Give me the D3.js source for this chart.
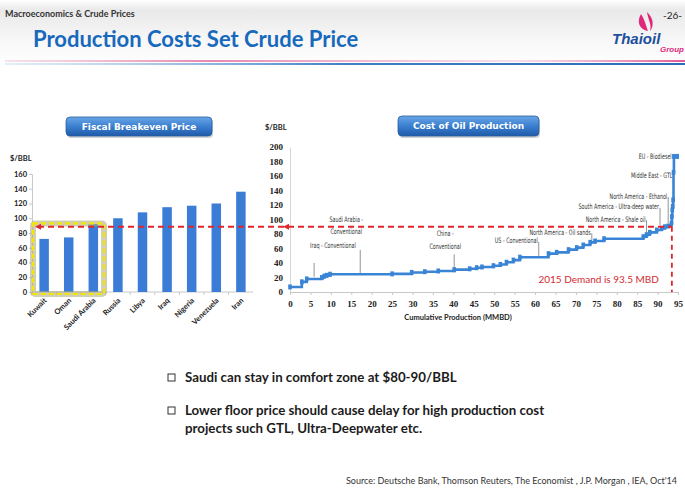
<!DOCTYPE html>
<html>
<head>
<meta charset="utf-8">
<script src="https://cdn.jsdelivr.net/npm/d3@7"></script>
<style>
  body { margin: 0; background: #fff; }
  svg { display: block; }
  .tick-l { font-family: Lato, sans-serif; font-weight: bold; font-size: 7.5px; fill: #222; }
  .tick-r { font-family: "Liberation Serif", serif; font-weight: bold; font-size: 9px; fill: #222; }
  .note { font-family: "DejaVu Sans", sans-serif; font-size: 7.5px; fill: #333; }
</style>
</head>
<body>
<svg id="slide" width="685" height="490"></svg>
<script>
// fiscal breakeven by country ($/bbl)
const countries = ["Kuwait", "Oman", "Saudi Arabia", "Russia", "Libya", "Iraq", "Nigeria", "Venezuela", "Iran"];
const breakeven = [72, 74, 92, 100, 108, 115, 117, 120, 136];
const leftTicks = [0, 20, 40, 60, 80, 100, 120, 140, 160];

// cost curve: cumulative production (mmbd) vs cost ($/bbl), step after
const cumProd = [0, 2.9, 4.1, 7.8, 8.4, 9.0, 9.8, 25, 29.8, 33, 36.3, 40.2, 44, 45.7, 47, 49.8, 51.5, 53, 54.7, 56.3,
    63.3, 65.3, 68.2, 70.2, 71.8, 73.5, 74.7, 76.9, 86.5, 87.3, 88.1, 89.8, 91.0, 91.8, 92.6, 93.4, 93.5, 93.6, 93.7,
    93.8, 93.9, 94.0, 94.8];
const prodCost = [7, 14, 18, 20, 22, 23, 24.5, 25, 27, 28, 29, 30.8, 32, 33.5, 34.5, 36.3, 38, 41, 44, 48,
    52.9, 54.7, 58.4, 61.2, 64.8, 68.5, 70.3, 73.5, 76.3, 79, 82.3, 85.5, 87.8, 90, 91, 95, 104, 113, 118,
    127, 165, 187, 187];
const rightYTicks = [0, 20, 40, 60, 80, 100, 120, 140, 160, 180, 200];
const rightXTicks = [0, 5, 10, 15, 20, 25, 30, 35, 40, 45, 50, 55, 60, 65, 70, 75, 80, 85, 90, 95];

const comfortPrice = 90;
const demand2015 = 93.5;

// producer labels on the curve
const noteText = [["Iraq - Conventional"], ["Saudi Arabia -", "Conventional"], ["China -", "Conventional"],
    ["US - Conventional"], ["North America - Oil sands"], ["North America - Shale oil"],
    ["South America - Ultra-deep water"], ["North America - Ethanol"], ["Middle East - GTL"], ["EU - Biodiesel"]];
const noteAt = [5.9, 17.2, 40.2, 60.9, 73.9, 87.3, 90.6, 92.6, 93.9, 93.7];
const noteTop = [40, 58, 52, 69, 81, 99, 116, 131, 159, 186];
const noteLow = [21, 25, 31, 49, 69, 76, 92, 95, 113, 186];

const svg = d3.select("#slide");
const defs = svg.append("defs");

// ---------- header ----------
const hg = defs.append("linearGradient").attr("id", "hdr").attr("x1", 0).attr("y1", 0).attr("x2", 0).attr("y2", 1);
hg.append("stop").attr("offset", "0").attr("stop-color", "#ffffff");
hg.append("stop").attr("offset", "0.15").attr("stop-color", "#e9e9e9");
hg.append("stop").attr("offset", "0.6").attr("stop-color", "#f7f7f7");
hg.append("stop").attr("offset", "1").attr("stop-color", "#ffffff");
svg.append("rect").attr("x", 0).attr("y", 0).attr("width", 685).attr("height", 66).attr("fill", "url(#hdr)");

const pk = defs.append("linearGradient").attr("id", "pink");
pk.append("stop").attr("offset", "0").attr("stop-color", "#e7a3c0").attr("stop-opacity", 0.3);
pk.append("stop").attr("offset", "0.3").attr("stop-color", "#e889b0");
pk.append("stop").attr("offset", "0.75").attr("stop-color", "#eec0d4").attr("stop-opacity", 0.5);
pk.append("stop").attr("offset", "1").attr("stop-color", "#e05a95");
const bl = defs.append("linearGradient").attr("id", "blue");
bl.append("stop").attr("offset", "0").attr("stop-color", "#7fb3e0").attr("stop-opacity", 0.2);
bl.append("stop").attr("offset", "0.5").attr("stop-color", "#3f7fc4");
bl.append("stop").attr("offset", "1").attr("stop-color", "#2b6cb5");
svg.append("rect").attr("x", 5).attr("y", 60).attr("width", 680).attr("height", 2).attr("fill", "url(#pink)");
svg.append("rect").attr("x", 5).attr("y", 63).attr("width", 680).attr("height", 2).attr("fill", "url(#blue)");

svg.append("text").attr("x", 5).attr("y", 17)
    .style("font-family", "Lato, sans-serif").style("font-weight", "bold").style("font-size", "9px")
    .attr("fill", "#333").text("Macroeconomics & Crude Prices");
svg.append("text").attr("x", 33).attr("y", 47)
    .style("font-family", "Lato, sans-serif").style("font-weight", "bold").style("font-size", "22px")
    .attr("fill", "#1769bd").text("Production Costs Set Crude Price");
svg.append("text").attr("x", 682).attr("y", 19).attr("text-anchor", "end")
    .style("font-family", "Lato, sans-serif").style("font-size", "10px").attr("fill", "#222").text("-26-");

// logo
svg.append("path").attr("d", "M641,14 C636,22 640,30 648,31 C646,26 645,20 641,14 Z M647,12 C648,20 652,24 650,31 C654,27 654,18 647,12 Z")
    .attr("fill", "#e0287a");
svg.append("text").attr("x", 612).attr("y", 44)
    .style("font-family", "Liberation Sans, sans-serif").style("font-weight", "bold").style("font-style", "italic")
    .style("font-size", "15px").attr("fill", "#1d4f9c").text("Thaioil");
svg.append("text").attr("x", 684).attr("y", 52).attr("text-anchor", "end")
    .style("font-family", "Liberation Sans, sans-serif").style("font-weight", "bold").style("font-style", "italic")
    .style("font-size", "8px").attr("fill", "#e0287a").text("Group");

// ---------- title buttons ----------
const bg = defs.append("linearGradient").attr("id", "btn").attr("x1", 0).attr("y1", 0).attr("x2", 0).attr("y2", 1);
bg.append("stop").attr("offset", "0").attr("stop-color", "#6aa6e6");
bg.append("stop").attr("offset", "0.5").attr("stop-color", "#3a7fd0");
bg.append("stop").attr("offset", "1").attr("stop-color", "#1f5aa8");

function button(x, y, w, h, label) {
    svg.append("rect").attr("x", x + 1).attr("y", y + 2).attr("width", w).attr("height", h).attr("rx", 4)
        .attr("fill", "#000").attr("opacity", 0.18);
    svg.append("rect").attr("x", x).attr("y", y).attr("width", w).attr("height", h).attr("rx", 4)
        .attr("fill", "url(#btn)").attr("stroke", "#2a5f9e").attr("stroke-width", 0.8);
    svg.append("text").attr("x", x + w / 2).attr("y", y + h / 2 + 3.3).attr("text-anchor", "middle")
        .style("font-family", "DejaVu Sans, sans-serif").style("font-weight", "bold").style("font-size", "9px")
        .attr("fill", "#fff").text(label);
}
button(66, 117, 146, 19, "Fiscal Breakeven Price");
button(398, 116, 141, 20, "Cost of Oil Production");

// ---------- left chart: fiscal breakeven ----------
const xL = d3.scaleBand().domain(countries).range([32, 253]).paddingInner(0.614).paddingOuter(0.3);
const yL = d3.scaleLinear().domain([0, 160]).range([292, 174]);

const gl = svg.append("g");
gl.append("g")
    .attr("transform", "translate(32,0)")
    .call(d3.axisLeft(yL).tickValues(leftTicks).tickSize(3).tickPadding(2))
    .call(g => g.selectAll("text").attr("class", "tick-l"))
    .call(g => g.selectAll("line,path").attr("stroke", "#c8c8c8"));

// x axis with ticks between bands
gl.append("line").attr("x1", 32).attr("x2", 253).attr("y1", yL(0)).attr("y2", yL(0)).attr("stroke", "#c8c8c8");
gl.selectAll(".sep").data(countries).enter().append("line")
    .attr("x1", d => xL(d) - xL.step() * xL.paddingInner() / 2)
    .attr("x2", d => xL(d) - xL.step() * xL.paddingInner() / 2)
    .attr("y1", yL(0)).attr("y2", yL(0) + 3).attr("stroke", "#c8c8c8");

gl.selectAll(".bar").data(countries).enter().append("rect")
    .attr("x", d => xL(d))
    .attr("y", (d, i) => yL(breakeven[i]))
    .attr("width", xL.bandwidth())
    .attr("height", (d, i) => yL(0) - yL(breakeven[i]))
    .attr("fill", "#3b7dd6");

gl.selectAll(".cat").data(countries).enter().append("text")
    .attr("class", "tick-l")
    .attr("text-anchor", "end")
    .attr("transform", d => "translate(" + (xL(d) + xL.bandwidth() / 2 + 3) + "," + (yL(0) + 9) + ") rotate(-45)")
    .text(d => d);

gl.append("text").attr("class", "tick-l").attr("x", 10).attr("y", 161).text("$/BBL");

// highlight box round the Gulf states
const boxX0 = 33;
const boxX1 = xL("Saudi Arabia") + xL.bandwidth() + 6;
const boxY0 = yL(93);
const boxY1 = yL(0) + 2;
gl.append("rect").attr("x", boxX0).attr("y", boxY0).attr("width", boxX1 - boxX0).attr("height", boxY1 - boxY0)
    .attr("fill", "none").attr("stroke", "#a9a87a").attr("stroke-width", 6).attr("opacity", 0.55).attr("rx", 2);
gl.append("rect").attr("x", boxX0).attr("y", boxY0).attr("width", boxX1 - boxX0).attr("height", boxY1 - boxY0)
    .attr("fill", "none").attr("stroke", "#f3e600").attr("stroke-width", 2.2).attr("stroke-dasharray", "5,3");

// ---------- right chart: cost curve ----------
const xR = d3.scaleLinear().domain([0, 95]).range([290, 678]);
const yR = d3.scaleLinear().domain([0, 200]).range([292, 147]);

const gr = svg.append("g");
gr.append("g")
    .attr("transform", "translate(290,0)")
    .call(d3.axisLeft(yR).tickValues(rightYTicks).tickSize(0).tickPadding(7))
    .call(g => g.selectAll("text").attr("class", "tick-r"))
    .call(g => g.select(".domain").attr("stroke", "#d6d6d6"));
gr.append("g")
    .attr("transform", "translate(0," + yR(0) + ")")
    .call(d3.axisBottom(xR).tickValues(rightXTicks).tickSize(3).tickPadding(6).tickSizeOuter(0))
    .call(g => g.selectAll("text").attr("class", "tick-r"))
    .call(g => g.selectAll("line,path").attr("stroke", "#c8c8c8"));

gr.append("text").attr("x", 265).attr("y", 130)
    .style("font-family", "Lato, sans-serif").style("font-weight", "bold").style("font-size", "7.5px")
    .attr("fill", "#222").text("$/BBL");
gr.append("text").attr("x", 458).attr("y", 320).attr("text-anchor", "middle")
    .style("font-family", "Lato, sans-serif").style("font-weight", "bold").style("font-size", "7.5px")
    .attr("fill", "#222").text("Cumulative Production (MMBD)");

// leader lines and producer labels
gr.selectAll(".lead").data(noteAt.slice(0, 9)).enter().append("line")
    .attr("x1", d => xR(d)).attr("x2", d => xR(d))
    .attr("y1", (d, i) => yR(noteTop[i])).attr("y2", (d, i) => yR(noteLow[i]))
    .attr("stroke", "#666").attr("stroke-width", 0.7);

noteText.forEach((lines, i) => {
    let x, anchor, y;
    if (i === 0) { x = xR(noteAt[i]) - 4; anchor = "start"; y = yR(noteTop[i]) - 15; }
    else if (i === 1) { x = xR(noteAt[i]) - 14; anchor = "middle"; y = yR(noteTop[i]) - 28; }
    else if (i === 2) { x = xR(noteAt[i]) - 9; anchor = "middle"; y = yR(noteTop[i]) - 18; }
    else { x = xR(noteAt[i]) - 1; anchor = "end"; y = yR(noteTop[i]) + 1.5; }
    const t = gr.append("text").attr("class", "note").attr("text-anchor", anchor)
        .attr("transform", "translate(" + x + "," + y + ") scale(0.64,1)");
    lines.forEach((s, k) => {
        t.append("tspan").attr("x", 0).attr("y", k * 12.5).text(s);
    });
});

// the curve
const line = d3.line()
    .x((d, i) => xR(cumProd[i]))
    .y((d, i) => yR(prodCost[i]))
    .curve(d3.curveStepAfter);
gr.append("path").datum(prodCost).attr("d", line)
    .attr("fill", "none").attr("stroke", "#3a84d6").attr("stroke-width", 2.6);
gr.selectAll(".mk").data(prodCost).enter().append("rect")
    .attr("x", (d, i) => xR(cumProd[i]) - 1.8)
    .attr("y", d => yR(d) - 2.5)
    .attr("width", 3.6).attr("height", 5)
    .attr("fill", "#3a84d6");

// comfort price line across both charts and 2015 demand
svg.append("line")
    .attr("x1", 38).attr("x2", xR(demand2015))
    .attr("y1", yR(comfortPrice)).attr("y2", yR(comfortPrice))
    .attr("stroke", "#e0262b").attr("stroke-width", 1.8).attr("stroke-dasharray", "6,4");
svg.append("line")
    .attr("x1", xR(demand2015)).attr("x2", xR(demand2015))
    .attr("y1", yR(comfortPrice)).attr("y2", yR(0))
    .attr("stroke", "#e0262b").attr("stroke-width", 1.8).attr("stroke-dasharray", "5,4");
[35, xR(0) - 7].forEach(ax => {
    svg.append("path")
        .attr("d", "M" + ax + "," + yR(comfortPrice) + " l6,-3 l0,6 Z")
        .attr("fill", "#e0262b");
});
svg.append("text").attr("x", xR(demand2015) - 13).attr("y", 283).attr("text-anchor", "end")
    .style("font-family", "Lato, sans-serif").style("font-size", "10px")
    .attr("fill", "#d42a30").text("2015 Demand is 93.5 MBD");

// ---------- bullets and source ----------
const bullets = [
    { y: 382, lines: ["Saudi can stay in comfort zone at $80-90/BBL"] },
    { y: 415, lines: ["Lower floor price should cause delay for high production cost", "projects such GTL, Ultra-Deepwater etc."] }
];
bullets.forEach(b => {
    svg.append("rect").attr("x", 168).attr("y", b.y - 8).attr("width", 7).attr("height", 7)
        .attr("fill", "none").attr("stroke", "#333").attr("stroke-width", 1);
    b.lines.forEach((s, k) => {
        svg.append("text").attr("x", 185).attr("y", b.y + k * 17.5)
            .style("font-family", "Lato, sans-serif").style("font-weight", "bold").style("font-size", "13.3px")
            .attr("fill", "#1c1c1c").text(s);
    });
});
svg.append("text").attr("x", 346).attr("y", 484)
    .style("font-family", "Lato, sans-serif").style("font-size", "9px")
    .attr("fill", "#333").text("Source: Deutsche Bank, Thomson Reuters, The Economist , J.P. Morgan , IEA, Oct'14");
</script>
</body>
</html>
